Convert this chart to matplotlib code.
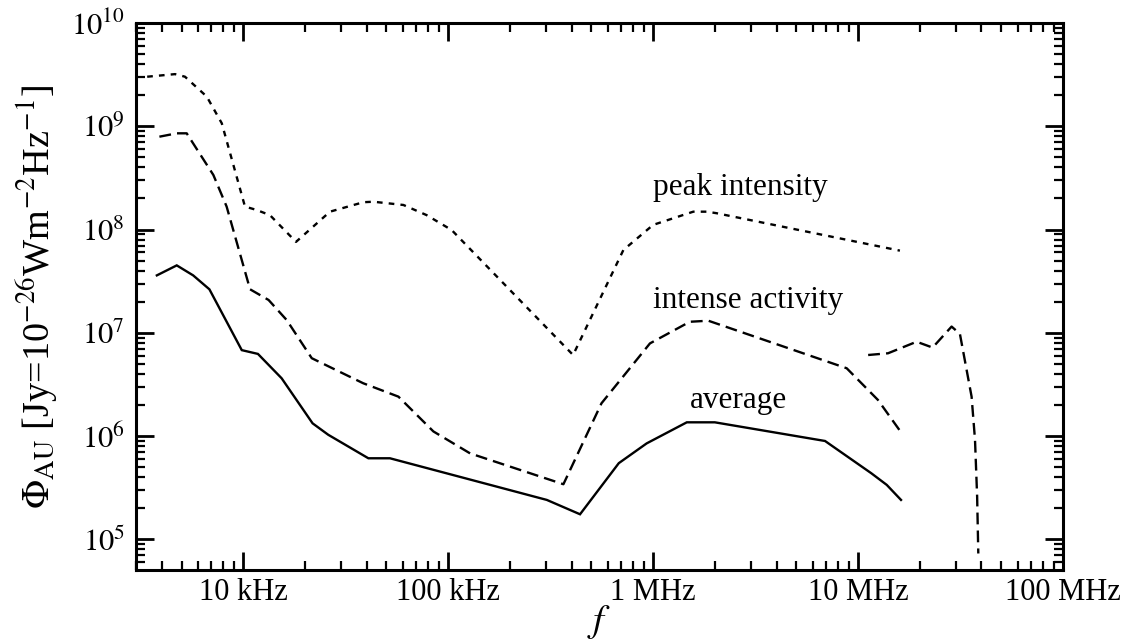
import matplotlib
matplotlib.use("Agg")
import matplotlib.pyplot as plt
from matplotlib.ticker import LogLocator, FixedLocator, FixedFormatter, NullFormatter

plt.rcParams['font.family'] = ['Liberation Serif', 'DejaVu Serif']
plt.rcParams['mathtext.fontset'] = 'stix'

# ---- data (frequency in Hz, flux in Jy) ----
avg_f = [3.79e3, 4.74e3, 5.7e3, 6.84e3, 9.84e3, 1.18e4, 1.54e4, 2.18e4, 2.6e4, 4.08e4, 5.2e4,
         3.03e5, 4.4e5, 6.8e5, 9.3e5, 1.46e6, 2.0e6, 6.9e6, 1.16e7, 1.38e7, 1.62e7]
avg_v = [3.6e7, 4.5e7, 3.6e7, 2.64e7, 6.8e6, 6.25e6, 3.63e6, 1.33e6, 1.03e6, 6.1e5, 6.1e5,
         2.41e5, 1.75e5, 5.47e5, 8.5e5, 1.36e6, 1.36e6, 8.97e5, 4.37e5, 3.37e5, 2.41e5]

int_f = [3.9e3, 4.74e3, 5.3e3, 7.15e3, 8.3e3, 1.08e4, 1.33e4, 1.63e4, 2.16e4, 3.85e4, 5.72e4,
         8.47e4, 1.28e5, 3.65e5, 5.6e5, 9.65e5, 1.51e6, 1.86e6, 8.8e6, 1.25e7, 1.62e7]
int_v = [7.93e8, 8.55e8, 8.55e8, 3.38e8, 1.67e8, 2.64e7, 2.08e7, 1.33e7, 5.68e6, 3.25e6, 2.41e6,
         1.11e6, 6.8e5, 3.42e5, 2.08e6, 7.9e6, 1.28e7, 1.31e7, 4.54e6, 2.24e6, 1.09e6]

int2_f = [1.12e7, 1.40e7, 1.93e7, 2.31e7, 2.86e7, 3.14e7, 3.58e7, 3.72e7, 3.81e7, 3.86e7]
int2_v = [6.1e6, 6.34e6, 8.2e6, 7.2e6, 1.15e7, 9.76e6, 2.41e6, 9.2e5, 2.6e5, 7.3e4]

peak_f = [3.4e3, 4.65e3, 5.2e3, 6.64e3, 7.86e3, 1.02e4, 1.16e4, 1.35e4, 1.81e4, 2.65e4, 3.86e4,
          4.32e4, 6.05e4, 7.85e4, 1.04e5, 4.07e5, 7.16e5, 1.0e6, 1.57e6, 1.83e6, 2.04e6, 1.6e7]
peak_v = [3.02e9, 3.2e9, 3.02e9, 1.94e9, 1.07e9, 1.67e8, 1.55e8, 1.38e8, 7.6e7, 1.49e8, 1.84e8,
          1.86e8, 1.73e8, 1.38e8, 9.9e7, 6.1e6, 6.34e7, 1.11e8, 1.49e8, 1.49e8, 1.44e8, 6.25e7]

xtick_vals = [1e4, 1e5, 1e6, 1e7, 1e8]
xtick_labels = ['10 kHz', '100 kHz', '1 MHz', '10 MHz', '100 MHz']
ytick_vals = [1e5, 1e6, 1e7, 1e8, 1e9, 1e10]
ytick_labels = [r'$10^{5}$', r'$10^{6}$', r'$10^{7}$', r'$10^{8}$', r'$10^{9}$', r'$10^{10}$']

labels = ['peak intensity', 'intense activity', 'average']
label_pos = [(1.0e6, 2.16e8), (1.0e6, 1.74e7), (1.51e6, 1.87e6)]

# ---- figure ----
fig = plt.figure(figsize=(11.28, 6.43), dpi=100)
ax = fig.add_axes([0.1206, 0.1135, 0.8218, 0.8507])

lw = 1.7
ax.plot(avg_f, avg_v, color='black', lw=lw, solid_joinstyle='miter')
ax.plot(int_f, int_v, color='black', lw=lw, dashes=(5.0, 2.6))
ax.plot(int2_f, int2_v, color='black', lw=lw, dashes=(5.0, 2.6))
ax.plot(peak_f, peak_v, color='black', lw=lw, dashes=(2.4, 2.6))

ax.set_xscale('log')
ax.set_yscale('log')
ax.set_xlim(3e3, 1e8)
ax.set_ylim(5.05e4, 1e10)

ax.xaxis.set_major_locator(FixedLocator(xtick_vals))
ax.xaxis.set_major_formatter(FixedFormatter(xtick_labels))
ax.yaxis.set_major_locator(FixedLocator(ytick_vals))
ax.yaxis.set_major_formatter(FixedFormatter(ytick_labels))
ax.xaxis.set_minor_locator(LogLocator(base=10, subs=range(2, 10), numticks=50))
ax.yaxis.set_minor_locator(LogLocator(base=10, subs=range(2, 10), numticks=50))
ax.xaxis.set_minor_formatter(NullFormatter())
ax.yaxis.set_minor_formatter(NullFormatter())

ax.tick_params(which='both', direction='in', top=True, right=True, labelsize=22, color='black')
ax.tick_params(which='major', length=13, width=2.0)
ax.tick_params(which='minor', length=6.5, width=1.6)
ax.tick_params(axis='x', which='major', pad=6)
ax.tick_params(axis='y', which='major', pad=8)
for s in ax.spines.values():
    s.set_linewidth(2.2)

for t, (x, y) in zip(labels, label_pos):
    ax.text(x, y, t, fontsize=22.5, ha='left', va='baseline')

ax.set_xlabel(r'$f$', fontsize=28, labelpad=-3)
ax.set_ylabel(r'$\Phi_{\mathrm{AU}}$ [Jy=10$^{-26}$Wm$^{-2}$Hz$^{-1}$]', fontsize=27.5, labelpad=8)

fig.savefig('out.png', dpi=100)
